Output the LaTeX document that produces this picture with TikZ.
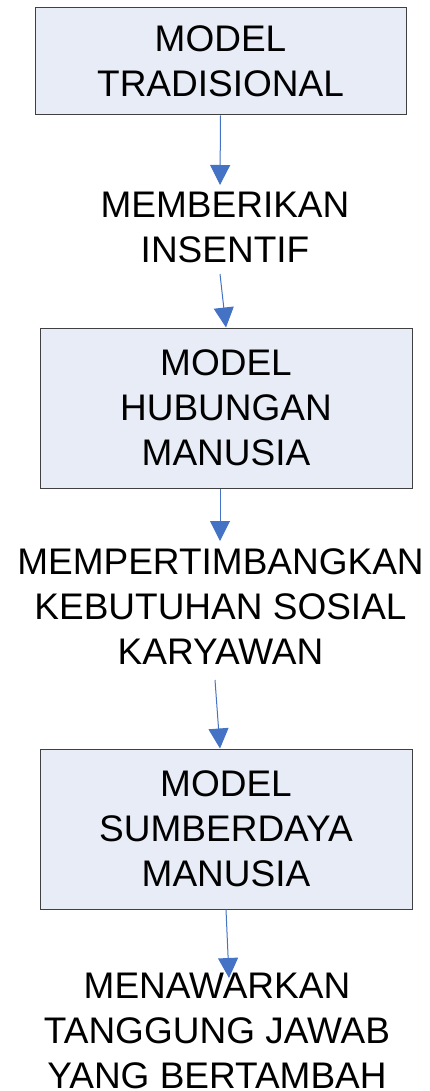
\documentclass[tikz,border=0pt]{standalone}
\usepackage{fontspec}
\setmainfont{Liberation Sans}
\usetikzlibrary{arrows.meta}
\definecolor{boxfill}{RGB}{231,236,246}
\definecolor{boxline}{RGB}{64,64,64}
\definecolor{arrowblue}{RGB}{68,114,196}
\tikzset{
  modelbox/.style={draw=boxline, line width=1pt, fill=boxfill, align=center,
    font=\fontsize{37}{45}\selectfont, inner sep=0pt},
  labeltext/.style={align=center, font=\fontsize{37}{45}\selectfont, inner sep=0pt},
  flow/.style={draw=arrowblue, line width=1pt, -{Triangle[width=20pt,length=20pt]}, arrowblue}
}
\begin{document}
\begin{tikzpicture}[x=1pt,y=-1pt]
\useasboundingbox (0,0) rectangle (429,1091);
\node[modelbox, minimum width=371pt, minimum height=107pt] (b1) at (220.5,61.5) {MODEL\\TRADISIONAL};
\node[labeltext] (t1) at (225,227.5) {MEMBERIKAN\\INSENTIF};
\node[modelbox, minimum width=372pt, minimum height=160pt] (b2) at (226,408) {MODEL\\HUBUNGAN\\MANUSIA};
\node[labeltext] (t2) at (220.5,606.5) {MEMPERTIMBANGKAN\\KEBUTUHAN SOSIAL\\KARYAWAN};
\node[modelbox, minimum width=372pt, minimum height=160pt] (b3) at (226,829) {MODEL\\SUMBERDAYA\\MANUSIA};
\node[labeltext] (t3) at (217,1031) {MENAWARKAN\\TANGGUNG JAWAB\\YANG BERTAMBAH};
\coordinate (e1) at (220,185);
\coordinate (s2) at (220,274);
\coordinate (s4) at (215,680);
\coordinate (e5) at (229,978);
\draw[flow] (b1.south) -- (e1);
\draw[flow] (s2) -- (b2.north);
\draw[flow] ([xshift=-6pt]b2.south) -- ([xshift=-6pt]b2.south |- 0,541);
\draw[flow] (s4) -- ([xshift=-6pt]b3.north);
\draw[flow] (b3.south) -- (e5);
\end{tikzpicture}
\end{document}
